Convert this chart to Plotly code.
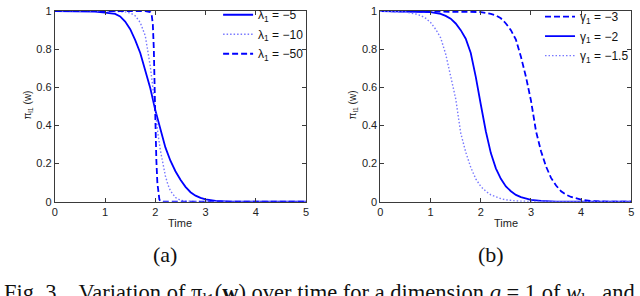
import plotly.graph_objects as go

# ---- data ----
ta_l5 = [0, 0.5, 0.8, 1.0, 1.2, 1.3, 1.4, 1.5, 1.6, 1.7, 1.8, 1.9, 2.0, 2.1, 2.2, 2.3, 2.4, 2.5, 2.6, 2.7, 2.8, 2.9, 3.0, 3.2, 3.5, 4.0, 5.0]
ya_l5 = [1, 1, 0.997, 0.992, 0.985, 0.972, 0.945, 0.905, 0.848, 0.78, 0.688, 0.595, 0.48, 0.375, 0.285, 0.215, 0.16, 0.115, 0.078, 0.05, 0.032, 0.02, 0.012, 0.005, 0.001, 0, 0]

ta_l10 = [0, 1.0, 1.4, 1.5, 1.6, 1.7, 1.8, 1.85, 1.9, 1.95, 2.0, 2.05, 2.1, 2.15, 2.2, 2.25, 2.3, 2.4, 2.5, 2.6, 3.0, 5.0]
ya_l10 = [1, 1, 0.996, 0.99, 0.975, 0.94, 0.87, 0.80, 0.71, 0.60, 0.47, 0.36, 0.27, 0.195, 0.135, 0.09, 0.058, 0.022, 0.008, 0.003, 0, 0]

ta_l50 = [0, 1.8, 1.9, 1.93, 1.95, 1.97, 1.99, 2.0, 2.02, 2.04, 2.06, 2.08, 2.1, 2.15, 5.0]
ya_l50 = [1, 1, 0.995, 0.975, 0.93, 0.8, 0.55, 0.38, 0.22, 0.1, 0.04, 0.012, 0.003, 0, 0]

tb_g3 = [0, 1.5, 2.0, 2.2, 2.3, 2.4, 2.5, 2.6, 2.7, 2.8, 2.9, 3.0, 3.1, 3.2, 3.3, 3.4, 3.5, 3.6, 3.7, 3.8, 3.9, 4.0, 4.2, 4.5, 5.0]
yb_g3 = [1, 0.999, 0.995, 0.985, 0.977, 0.962, 0.935, 0.9, 0.85, 0.76, 0.655, 0.53, 0.37, 0.265, 0.185, 0.125, 0.085, 0.055, 0.037, 0.025, 0.017, 0.011, 0.004, 0.001, 0]

tb_g2 = [0, 0.8, 1.0, 1.2, 1.3, 1.4, 1.5, 1.6, 1.7, 1.8, 1.9, 2.0, 2.1, 2.2, 2.3, 2.4, 2.5, 2.6, 2.7, 2.8, 2.9, 3.0, 3.2, 3.5, 4.0, 5.0]
yb_g2 = [1, 0.998, 0.995, 0.985, 0.975, 0.96, 0.935, 0.9, 0.855, 0.78, 0.655, 0.51, 0.37, 0.255, 0.175, 0.12, 0.08, 0.055, 0.036, 0.024, 0.016, 0.01, 0.004, 0.001, 0, 0]

tb_g15 = [0, 0.3, 0.5, 0.7, 0.8, 0.9, 1.0, 1.1, 1.2, 1.3, 1.4, 1.5, 1.6, 1.7, 1.8, 1.9, 2.0, 2.1, 2.2, 2.3, 2.4, 2.5, 2.7, 3.0, 3.5, 5.0]
yb_g15 = [1, 0.998, 0.995, 0.985, 0.977, 0.963, 0.94, 0.905, 0.86, 0.775, 0.665, 0.54, 0.36, 0.26, 0.18, 0.12, 0.08, 0.055, 0.036, 0.024, 0.016, 0.01, 0.004, 0.001, 0, 0]

x_ticks = [0, 1, 2, 3, 4, 5]
y_ticks = [0, 0.2, 0.4, 0.6, 0.8, 1]
y_tick_text = ["0", "0.2", "0.4", "0.6", "0.8", "1"]

# ---- styling ----
W, H = 640, 296
BLUE = "#0000ff"
LIGHT = "rgb(120,120,255)"
FRAME = "#3a3a3a"
SANS = "Liberation Sans, Arial, sans-serif"
SERIF = "Liberation Serif, Times New Roman, serif"
DASH = "6px,3px"
DOT = "1.5px,2px"

def px_x(p):
    return p / W

def px_y(p):
    return (H - p) / H

fig = go.Figure()

def add(x, y, name, color, width, dash, xa, ya, leg, grp):
    fig.add_trace(go.Scatter(x=x, y=y, mode="lines", name=name,
                             line=dict(color=color, width=width, dash=dash),
                             xaxis=xa, yaxis=ya, legend=leg, legendgroup=grp))

add(ta_l5, ya_l5, "λ<sub>1</sub> = −5", BLUE, 1.8, "solid", "x", "y", "legend", "a1")
add(ta_l10, ya_l10, "λ<sub>1</sub> = −10", LIGHT, 1.4, DOT, "x", "y", "legend", "a2")
add(ta_l50, ya_l50, "λ<sub>1</sub> = −50", BLUE, 1.8, DASH, "x", "y", "legend", "a3")
add(tb_g3, yb_g3, "γ<sub>1</sub> = −3", BLUE, 1.8, DASH, "x2", "y2", "legend2", "b1")
add(tb_g2, yb_g2, "γ<sub>1</sub> = −2", BLUE, 1.8, "solid", "x2", "y2", "legend2", "b2")
add(tb_g15, yb_g15, "γ<sub>1</sub> = −1.5", LIGHT, 1.4, DOT, "x2", "y2", "legend2", "b3")

ax_common = dict(showline=True, mirror="ticks", linecolor=FRAME, linewidth=1,
                 ticks="inside", ticklen=4, tickcolor=FRAME, showgrid=False, zeroline=False,
                 ticklabeloverflow="allow",
                 tickfont=dict(family=SANS, size=11, color="#222"))

dom_y = [px_y(204), px_y(5.3)]
leg_common = dict(xanchor="right", yanchor="top", bgcolor="rgba(0,0,0,0)",
                  font=dict(family=SANS, size=12, color="#111"), itemwidth=30, tracegroupgap=0.5)
fig.update_layout(
    width=W, height=H,
    margin=dict(l=0, r=0, t=0, b=0),
    paper_bgcolor="white", plot_bgcolor="white",
    xaxis=dict(domain=[px_x(52.3), px_x(306)], range=[0, 5], tickvals=x_ticks, anchor="y", **ax_common),
    yaxis=dict(domain=dom_y, range=[0, 1], tickvals=y_ticks, ticktext=y_tick_text, anchor="x", **ax_common),
    xaxis2=dict(domain=[px_x(381), px_x(634.3)], range=[0, 5], tickvals=x_ticks, anchor="y2", **ax_common),
    yaxis2=dict(domain=dom_y, range=[0, 1], tickvals=y_ticks, ticktext=y_tick_text, anchor="x2", **ax_common),
    legend=dict(x=px_x(309), y=px_y(-6), **leg_common),
    legend2=dict(x=px_x(637), y=px_y(-4), **leg_common),
    showlegend=True,
)

annos = []
for cx, lab in [(179, "(a)"), (507.6, "(b)")]:
    annos.append(dict(text="Time", x=px_x(cx), y=px_y(226), xref="paper", yref="paper",
                      showarrow=False, xanchor="center", yanchor="middle",
                      font=dict(family=SANS, size=11, color="#222")))
    annos.append(dict(text=lab, x=px_x(cx - 15), y=px_y(259), xref="paper", yref="paper",
                      showarrow=False, xanchor="center", yanchor="middle",
                      font=dict(family=SERIF, size=22, color="#111")))
for cx in [25, 353]:
    annos.append(dict(text="π<sub>l1</sub> (w)", x=px_x(cx), y=px_y(103), xref="paper", yref="paper",
                      showarrow=False, textangle=-90, xanchor="center", yanchor="middle",
                      font=dict(family=SANS, size=10, color="#222")))
annos.append(dict(text="Fig. 3.   Variation of π<sub>l1</sub>(<b>w</b>) over time for a dimension <i>q</i> = 1 of <i>w</i><sub>l</sub>,  and",
                  x=px_x(-1), y=px_y(300), xref="paper", yref="paper", showarrow=False,
                  xanchor="left", yanchor="middle", font=dict(family=SERIF, size=22.5, color="#111")))
fig.update_layout(annotations=annos)

fig.write_html("out.html", config={"displayModeBar": False},
               post_script="document.body.style.margin='0px';document.body.style.overflow='hidden';")
